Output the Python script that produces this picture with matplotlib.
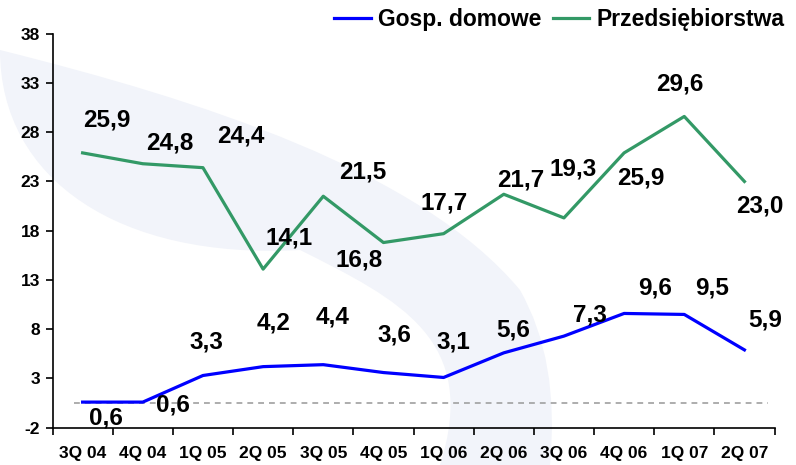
import numpy as np
import matplotlib.pyplot as plt
from matplotlib.patches import PathPatch
from matplotlib.path import Path

quarters = ['3Q 04', '4Q 04', '1Q 05', '2Q 05', '3Q 05', '4Q 05',
            '1Q 06', '2Q 06', '3Q 06', '4Q 06', '1Q 07', '2Q 07']
gosp = [0.6, 0.6, 3.3, 4.2, 4.4, 3.6, 3.1, 5.6, 7.3, 9.6, 9.5, 5.9]
przeds = [25.9, 24.8, 24.4, 14.1, 21.5, 16.8, 17.7, 21.7, 19.3, 25.9, 29.6, 23.0]
yticks = [-2, 3, 8, 13, 18, 23, 28, 33, 38]
base_level = 0.5

# label offsets in pixels (dx, dy)
gosp_off = [(23, -16), (30, -3), (3, 34), (10, 44), (9, 48), (11, 38),
            (10, 35), (9, 23), (26, 21), (31, 25), (28, 26), (21, 30)]
przeds_off = [(24, 33), (27, 21), (38, 32), (26, 31), (39, 24), (-24, -17),
              (1, 31), (17, 14), (9, 49), (17, -25), (-4, 32), (15, -25)]

plt.rcParams['font.family'] = ['Liberation Sans', 'DejaVu Sans']
plt.rcParams['font.weight'] = 'bold'

fig = plt.figure(figsize=(7.96, 4.65), dpi=100)

# faint logo swoosh in the background
wm = fig.add_axes([0, 0, 1, 1], zorder=0)
wm.set_xlim(0, 796)
wm.set_ylim(465, 0)
wm.axis('off')
swoosh = Path([(0, 50), (200, 100), (420, 170), (520, 290),
               (560, 360), (550, 465), (545, 465),
               (440, 465), (480, 340), (400, 300),
               (300, 250), (120, 260), (0, 180), (0, 50)],
              [Path.MOVETO, Path.CURVE4, Path.CURVE4, Path.CURVE4,
               Path.CURVE3, Path.CURVE3, Path.LINETO,
               Path.LINETO, Path.CURVE4, Path.CURVE4,
               Path.CURVE4, Path.CURVE4, Path.CURVE4, Path.CLOSEPOLY])
wm.add_patch(PathPatch(swoosh, fc='#f2f4fa', ec='none'))

ax = fig.add_axes([0.066, 0.0802, 0.907, 0.8473], zorder=1)
ax.patch.set_alpha(0)
x = np.arange(len(quarters))

ax.hlines(base_level, -0.15, 11.4, colors='#a0a0a0', linestyles=(0, (3.5, 3)), lw=1.2)
ax.plot(x, gosp, color='#0000ff', lw=2.3, label='Gosp. domowe')
ax.plot(x, przeds, color='#339966', lw=2.3, label='Przedsiębiorstwa')

for xi, v, (dx, dy) in zip(x, gosp, gosp_off):
    ax.annotate(f'{v:.1f}'.replace('.', ','), (xi, v), xytext=(dx * 0.72, dy * 0.72),
                textcoords='offset points', ha='center', va='center',
                fontsize=17.5, fontweight='bold')
for xi, v, (dx, dy) in zip(x, przeds, przeds_off):
    ax.annotate(f'{v:.1f}'.replace('.', ','), (xi, v), xytext=(dx * 0.72, dy * 0.72),
                textcoords='offset points', ha='center', va='center',
                fontsize=17.5, fontweight='bold')

ax.set_xlim(-0.5, len(quarters) - 0.5)
ax.set_ylim(-2, 38)
ax.set_yticks(yticks)
ax.set_yticklabels([str(t) for t in yticks])
ax.set_xticks(np.arange(len(quarters) + 1) - 0.5)
ax.set_xticklabels([])
ax.set_xticks(x, minor=True)
ax.set_xticklabels(quarters, minor=True)
ax.tick_params(axis='x', which='minor', length=0, pad=13, labelsize=12.5)
ax.tick_params(axis='x', which='major', length=5, width=1.2, direction='out')
ax.tick_params(axis='y', length=5, width=1.2, pad=4, labelsize=12.5)
for s in ['top', 'right']:
    ax.spines[s].set_visible(False)
for s in ['left', 'bottom']:
    ax.spines[s].set_linewidth(1.2)

ax.legend(loc='center right', bbox_to_anchor=(0.985, 0.957), bbox_transform=fig.transFigure,
          ncol=2, frameon=False, fontsize=16.5, handlelength=1.6, handletextpad=0.3,
          columnspacing=0.5, borderpad=0, borderaxespad=0)

fig.savefig('out.png', dpi=100)
